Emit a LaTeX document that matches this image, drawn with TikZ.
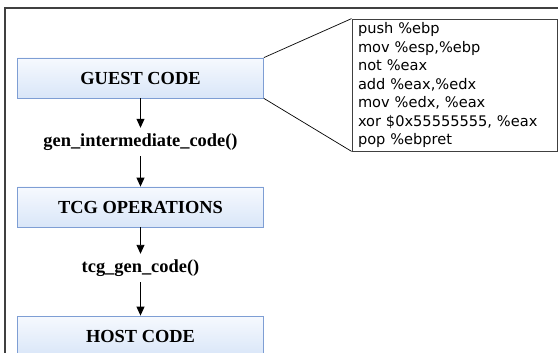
\documentclass[tikz,border=0pt]{standalone}
\usepackage{fontspec}
\setmainfont{Liberation Serif}
\newfontfamily\codefont{DejaVu Sans}
\usepackage{tikz}
\usetikzlibrary{arrows.meta,positioning}

\definecolor{boxtop}{HTML}{F6F9FE}
\definecolor{boxbot}{HTML}{D9E6F8}
\definecolor{boxline}{HTML}{7E9ED4}
\definecolor{frameline}{HTML}{404040}

\tikzset{
	stage/.style={draw=boxline, line width=0.8pt, rectangle, top color=boxtop, bottom color=boxbot,
		minimum width=246pt, minimum height=40pt, inner sep=0pt,
		font=\fontsize{18.4}{20}\selectfont\bfseries},
	call/.style={minimum height=28pt, inner sep=0pt, font=\fontsize{18.4}{20}\selectfont\bfseries},
	flow/.style={-{Triangle[length=9pt,width=8pt]}, line width=0.9pt},
}

\begin{document}
\begin{tikzpicture}
	\useasboundingbox (0,0) rectangle (558pt,-353pt);
	\clip (0,0) rectangle (558pt,-353pt);
	
	\draw[frameline, line width=1.5pt] (5pt,-360pt) -- (5pt,-8pt) -- (565pt,-8pt);
	
	\node[stage](GUEST) at (140.5pt,-78pt){GUEST CODE};
	\node[call, below of=GUEST, node distance=64pt](GEN){gen\_intermediate\_code()};
	\node[stage, below of=GEN, node distance=65pt](TCG){TCG OPERATIONS};
	\node[call, below of=TCG, node distance=61pt](TGC){tcg\_gen\_code()};
	\node[stage, below of=TGC, node distance=68pt](HOST){HOST CODE};
	
	\draw[flow] (GUEST.south) -- (GEN.north);
	\draw[flow] (GEN.south) -- (TCG.north);
	\draw[flow] (TCG.south) -- (TGC.north);
	\draw[flow] (TGC.south) -- (HOST.north);
	
	\node[draw=frameline, line width=0.8pt, rectangle, right of=GUEST, node distance=314pt, yshift=-7pt,
		text width=193pt, minimum height=132pt, inner xsep=6pt, inner ysep=0pt, align=left,
		font=\codefont\fontsize{14.6}{18.5}\selectfont](ASM){push \%ebp\\
		mov \%esp,\%ebp\\
		not \%eax\\
		add \%eax,\%edx\\
		mov \%edx, \%eax\\
		xor \$0x55555555, \%eax\\
		pop \%ebpret};
	
	\draw[line width=0.7pt] (GUEST.north east) -- (ASM.north west);
	\draw[line width=0.7pt] (GUEST.south east) -- (ASM.south west);
\end{tikzpicture}
\end{document}
